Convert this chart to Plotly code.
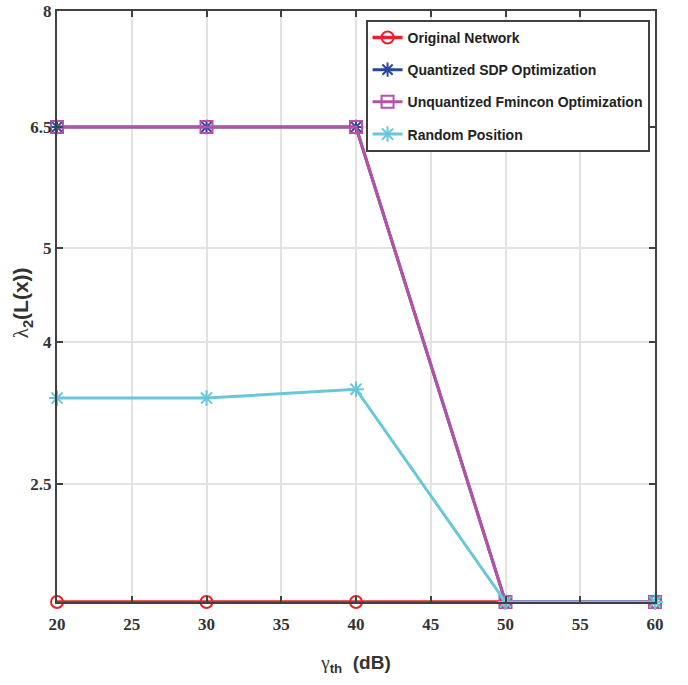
import plotly.graph_objects as go

# Data (y values expressed in the chart's underlying vertical coordinate)
gamma_th = [20, 30, 40, 50, 60]
original_network = [0.0, 0.0, 0.0, 0.0, 0.0]
quantized_sdp = [6.43, 6.43, 6.43, 0.0, 0.0]
unquantized_fmincon = [6.43, 6.43, 6.43, 0.0, 0.0]
random_position = [2.76, 2.76, 2.88, 0.0, 0.0]

y_tickvals = [1.60, 3.52, 4.79, 6.43, 8.0]
y_ticktext = ["2.5", "4", "5", "6.5", "8"]
x_tickvals = [20, 25, 30, 35, 40, 45, 50, 55, 60]

series = [
    ("Original Network", original_network, "#e8202a", "circle-open", 12, 3.5),
    ("Quantized SDP Optimization", quantized_sdp, "#2b479c", "asterisk-open", 12, 3),
    ("Unquantized Fmincon Optimization", unquantized_fmincon, "#b650a8", "square-open", 12, 3),
    ("Random Position", random_position, "#68c8da", "asterisk-open", 13, 3),
]

fig = go.Figure()
for i, (name, ys, color, sym, size, lw) in enumerate(series):
    fig.add_trace(go.Scatter(
        x=gamma_th, y=ys, name=name, mode="lines+markers",
        legendgroup=f"g{i}",
        line=dict(color=color, width=lw),
        marker=dict(symbol=sym, size=size, color=color, line=dict(color=color, width=2)),
        cliponaxis=False,
    ))

axis_common = dict(
    showline=True, linecolor="#404040", linewidth=2, mirror="ticks",
    ticks="inside", ticklen=6, tickwidth=2, tickcolor="#404040",
    showgrid=True, gridcolor="#e3e3e3", gridwidth=2, zeroline=False,
    automargin=False,
    tickfont=dict(family="Liberation Serif", size=17, color="#333333", weight="bold"),
)

fig.update_xaxes(
    range=[20, 60], tickvals=x_tickvals, ticklabelstandoff=6, **axis_common,
    title=dict(
        text="<span style='font-family:Liberation Serif;font-weight:normal'>γ</span><sub>th</sub>  (dB)",
        font=dict(family="Liberation Sans", size=19, color="#333333", weight="bold"),
        standoff=22,
    ),
)
fig.update_yaxes(range=[0, 8], tickvals=y_tickvals, ticktext=y_ticktext, **axis_common)

fig.add_annotation(
    text="<span style='font-family:Liberation Serif;font-weight:normal'>λ</span><sub>2</sub>(L(x))",
    xref="paper", yref="paper", x=-0.058, y=0.506,
    xanchor="center", yanchor="middle", textangle=-90, showarrow=False,
    font=dict(family="Liberation Sans", size=21, color="#333333", weight="bold"),
)

fig.update_layout(
    width=688, height=685,
    margin=dict(l=57, r=33, t=11, b=83),
    plot_bgcolor="white", paper_bgcolor="white",
    showlegend=True,
    legend=dict(
        x=0.516, y=0.985, xanchor="left", yanchor="top",
        bgcolor="white", bordercolor="#404040", borderwidth=2,
        font=dict(family="Liberation Sans", size=14, color="#222222", weight="bold"),
        itemwidth=30, tracegroupgap=11,
    ),
)

fig.write_html("out.html")
